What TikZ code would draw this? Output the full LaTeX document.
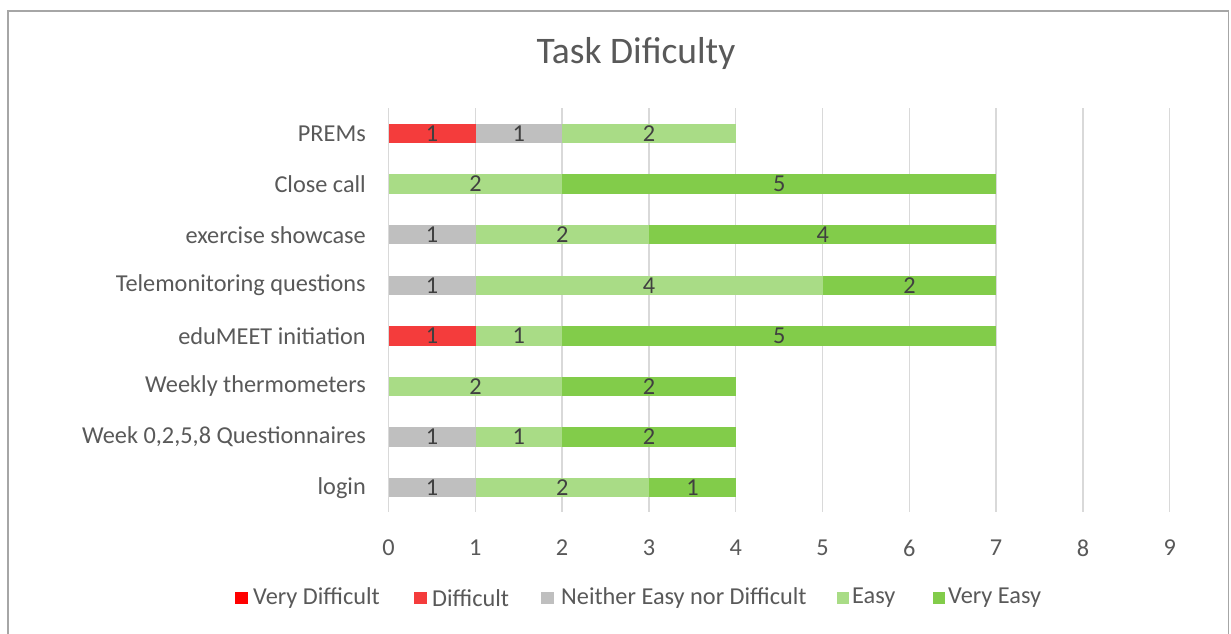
\documentclass[tikz,border=0pt]{standalone}
\usepackage{fontspec}
\setmainfont{Carlito}
\definecolor{vdiff}{HTML}{FF0000}
\definecolor{diff}{HTML}{F43C3C}
\definecolor{neith}{HTML}{BFBFBF}
\definecolor{easy}{HTML}{A9DC86}
\definecolor{veasy}{HTML}{82CC4A}
\definecolor{lbl}{HTML}{595959}
\definecolor{dlbl}{HTML}{404040}
\definecolor{gridc}{HTML}{D9D9D9}
\definecolor{framec}{HTML}{A6A6A6}
\newcommand\barseg[5]{%
  \node[segbox=#5, minimum width={#4*86.8pt}] (#1) at ({388.5+#3*86.8},{133.5+#2*50.6}) {#4};}
\begin{document}
\begin{tikzpicture}[x=1pt,y=-1pt,
  txt/.style={font=\fontsize{24.3}{26}\selectfont, inner sep=0pt},
  segbox/.style={txt, fill=#1, draw=none, minimum height=19.5pt, anchor=west, text=dlbl},
  cat/.style={txt, anchor=east, text=lbl},
  tick/.style={txt, text=lbl},
  legmark/.style={fill=#1, draw=none, minimum width=12.5pt, minimum height=12.5pt, inner sep=0pt},
  legtxt/.style={txt, anchor=west, text=lbl},
  gridline/.style={draw=gridc, line width=1.3pt}]
\useasboundingbox (0,0) rectangle (1231,634);
\fill[white] (0,0) rectangle (1231,634);
% frame
\draw[framec, line width=1.8pt] (8,660) -- (8,11) -- (1228.5,11) -- (1228.5,660);
% title
\node[txt, font=\fontsize{37.5}{40}\selectfont, text=lbl] (title) at (636,54) {Task Dificulty};
% grid
\foreach \k in {0,...,9} {
  \draw[gridline] ({388.5+\k*86.8},108) -- ({388.5+\k*86.8},512);
  \node[tick] (tick\k) at ({388.5+\k*86.8},548) {\k};
}
% categories
\foreach \i/\c in {0/PREMs,1/Close call,2/exercise showcase,3/Telemonitoring questions,4/eduMEET initiation,5/Weekly thermometers,6/{Week 0,2,5,8 Questionnaires},7/login} {
  \node[cat] (cat\i) at (366,{133.5+\i*50.6}) {\c};
}
% bars
\barseg{s01}{0}{0}{1}{diff}
\barseg{s02}{0}{1}{1}{neith}
\barseg{s03}{0}{2}{2}{easy}
\barseg{s11}{1}{0}{2}{easy}
\barseg{s12}{1}{2}{5}{veasy}
\barseg{s21}{2}{0}{1}{neith}
\barseg{s22}{2}{1}{2}{easy}
\barseg{s23}{2}{3}{4}{veasy}
\barseg{s31}{3}{0}{1}{neith}
\barseg{s32}{3}{1}{4}{easy}
\barseg{s33}{3}{5}{2}{veasy}
\barseg{s41}{4}{0}{1}{diff}
\barseg{s42}{4}{1}{1}{easy}
\barseg{s43}{4}{2}{5}{veasy}
\barseg{s51}{5}{0}{2}{easy}
\barseg{s52}{5}{2}{2}{veasy}
\barseg{s61}{6}{0}{1}{neith}
\barseg{s62}{6}{1}{1}{easy}
\barseg{s63}{6}{2}{2}{veasy}
\barseg{s71}{7}{0}{1}{neith}
\barseg{s72}{7}{1}{2}{easy}
\barseg{s73}{7}{3}{1}{veasy}
% legend
\node[legmark=vdiff] (m1) at (241.5,598) {};
\node[legtxt] (l1) at (253,598) {Very Difficult};
\node[legmark=diff] (m2) at (420.5,598) {};
\node[legtxt] (l2) at (432,598) {Difficult};
\node[legmark=neith] (m3) at (547.5,598) {};
\node[legtxt] (l3) at (561,598) {Neither Easy nor Difficult};
\node[legmark=easy] (m4) at (843,598) {};
\node[legtxt] (l4) at (852,598) {Easy};
\node[legmark=veasy] (m5) at (939,598) {};
\node[legtxt] (l5) at (948,598) {Very Easy};
\end{tikzpicture}
\end{document}
